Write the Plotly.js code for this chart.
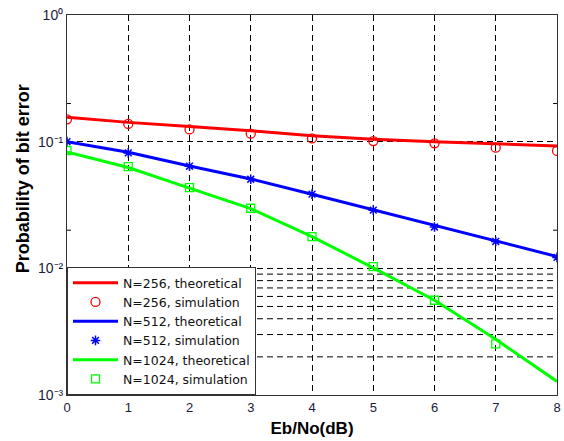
<!DOCTYPE html>
<html>
<head>
<meta charset="utf-8">
<script src="https://cdn.plot.ly/plotly-3.0.1.min.js"></script>
<style>html,body{margin:0;padding:0;background:#fff;}#chart{width:564px;height:441px;}</style>
</head>
<body>
<div id="chart"></div>
<script>
// Eb/No (dB)
var ebno = [0, 1, 2, 3, 4, 5, 6, 7, 8];
var ebnoSim1024 = [0, 1, 2, 3, 4, 5, 6, 7];

// N=256
var theory256 = [0.156, 0.142, 0.1315, 0.122, 0.1115, 0.1045, 0.100, 0.096, 0.0925];
var sim256    = [0.150, 0.138, 0.125, 0.1156, 0.106, 0.101, 0.097, 0.0897, 0.0845];
// N=512
var theory512 = [0.100, 0.0824, 0.0643, 0.0508, 0.0384, 0.0289, 0.0216, 0.0164, 0.0124];
var sim512    = [0.100, 0.0815, 0.0640, 0.0505, 0.0385, 0.0288, 0.0212, 0.0163, 0.0122];
// N=1024
var theory1024 = [0.0830, 0.0625, 0.0430, 0.0296, 0.0178, 0.0101, 0.0056, 0.00275, 0.00128];
var sim1024    = [0.0852, 0.0635, 0.0434, 0.0298, 0.0178, 0.0103, 0.0056, 0.00253];

var legendNames = ["N=256, theoretical", "N=256, simulation",
                   "N=512, theoretical", "N=512, simulation",
                   "N=1024, theoretical", "N=1024, simulation"];

var yTickVals = [0.001, 0.01, 0.1, 1];
var yTickText = ["10\u207B\u00B3", "10\u207B\u00B2", "10\u207B\u00B9", "10\u2070"];
var minorGridVals = [0.002, 0.003, 0.004, 0.005, 0.006, 0.007, 0.008, 0.009];
var smallTickVals = [0.2, 0.02];

var lineW = 3;
var traces = [
  {x: ebno, y: theory256, mode: "lines", name: legendNames[0], line: {color: "#ff0000", width: lineW}},
  {x: ebno, y: sim256, mode: "markers", name: legendNames[1],
   marker: {symbol: "circle-open", size: 9, color: "#ff0000", line: {color: "#ff0000", width: 1.3}}},
  {x: ebno, y: theory512, mode: "lines", name: legendNames[2], line: {color: "#0000ff", width: lineW}},
  {x: ebno, y: sim512, mode: "markers", name: legendNames[3],
   marker: {symbol: "asterisk-open", size: 8, color: "#0000ff", line: {color: "#0000ff", width: 1.5}}},
  {x: ebno, y: theory1024, mode: "lines", name: legendNames[4], line: {color: "#00ff00", width: lineW}},
  {x: ebnoSim1024, y: sim1024, mode: "markers", name: legendNames[5],
   marker: {symbol: "square-open", size: 8, color: "#00ff00", line: {color: "#00ff00", width: 1.3}}}
];

var shapes = [];
minorGridVals.forEach(function (v) {
  shapes.push({type: "line", layer: "below", xref: "paper", yref: "y", x0: 0, x1: 1, y0: v, y1: v,
               line: {color: "#000", width: 1, dash: "6px,4px"}});
});
smallTickVals.forEach(function (v) {
  shapes.push({type: "line", xref: "paper", yref: "y", x0: 0, x1: 0.008, y0: v, y1: v, line: {color: "#000", width: 1}});
  shapes.push({type: "line", xref: "paper", yref: "y", x0: 0.992, x1: 1, y0: v, y1: v, line: {color: "#000", width: 1}});
});

var layout = {
  width: 564, height: 441,
  margin: {l: 67, r: 7, t: 15, b: 46},
  paper_bgcolor: "#fff", plot_bgcolor: "#fff",
  font: {family: "Liberation Sans, Arial, sans-serif", size: 13, color: "#111"},
  showlegend: true,
  legend: {
    x: 0, y: 0, xanchor: "left", yanchor: "bottom",
    bgcolor: "#fff", bordercolor: "#333", borderwidth: 1,
    font: {family: "DejaVu Sans, sans-serif", size: 12.5, color: "#111"},
    itemwidth: 45
  },
  xaxis: {
    range: [0, 8], dtick: 1, tick0: 0,
    showgrid: true, gridcolor: "#000", gridwidth: 1, griddash: "6px,4px",
    showline: true, linecolor: "#333", linewidth: 1, mirror: true,
    ticks: "", zeroline: false,
    tickfont: {size: 13, color: "#1a1a3a"},
    title: {text: "Eb/No(dB)", font: {size: 17, weight: "bold", color: "#000"}, standoff: 8}
  },
  yaxis: {
    type: "log", range: [-3, 0], tickmode: "array", tickvals: yTickVals, ticktext: yTickText,
    showgrid: true, gridcolor: "#000", gridwidth: 1, griddash: "6px,4px",
    showline: true, linecolor: "#333", linewidth: 1, mirror: true,
    ticks: "", zeroline: false,
    tickfont: {size: 14, color: "#1a1a3a"}
  },
  shapes: shapes,
  annotations: [{
    text: "<b>Probability of bit error</b>", textangle: -90,
    xref: "paper", yref: "paper", x: -0.088, y: 0.57, xanchor: "center", yanchor: "middle",
    showarrow: false, font: {size: 18, color: "#000"}
  }]
};

Plotly.newPlot("chart", traces, layout, {displayModeBar: false, staticPlot: true});
</script>
</body>
</html>
